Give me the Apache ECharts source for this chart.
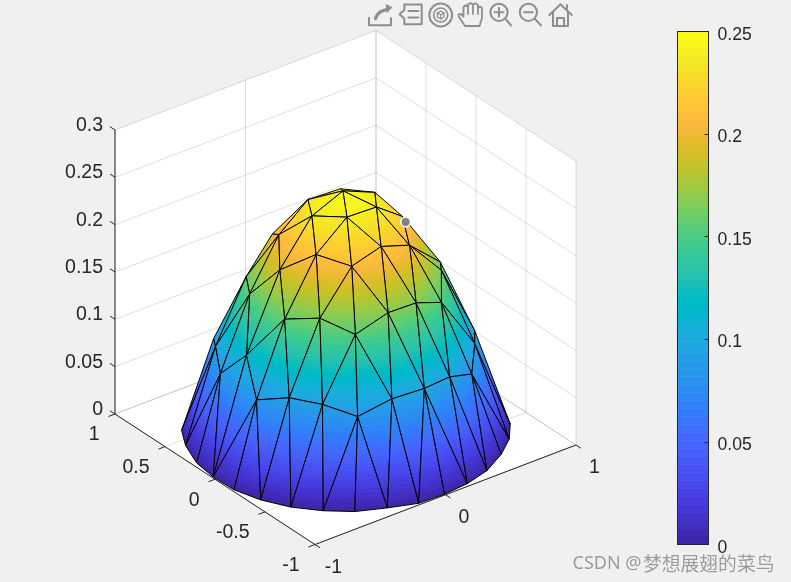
<!DOCTYPE html>
<html><head><meta charset="utf-8"><style>html,body{margin:0;padding:0;background:#f0f0f0}#c{width:791px;height:582px}</style>
<script src="https://cdn.jsdelivr.net/npm/echarts@6/dist/echarts.min.js"></script></head><body><div id="c"></div>
<script>
const vertexIds=['A1','B1','A2','A3','A4','A5','A6','A7','E1','F1','B2','B3','B4','B5','B6','B7','B8','B9','B10','B11','B12','B13','B14','B15','B16','B17','B18','B19','B20','B21','C2','C3','C4','C5','C6','C7','C8','C9','C10','D0','D1','D2','D3','D4','D5','D6','D7','D8','D9','D10','D11','D12','D13','D14','D15','D16'];
const meshX=[.020,.002,.251,-.120,-.302,-.463,.318,.577,-.554,.735,.115,-.235,-.110,-.344,-.001,.223,-.347,-.220,-.482,.487,-.568,.108,.333,-.107,-.585,-.464,-.329,-.735,.595,-.667,-.780,-.800,-.704,-.585,-.435,-.222,.005,.221,.440,-.806,-.906,-.975,-.998,-.986,-.932,-.839,-.710,-.563,-.385,-.193,-.007,.181,.373,.563,.721,.837];
const meshY=[.076,.029,.033,.220,.338,.389,-.155,-.196,.596,-.331,-.160,.029,-.158,.217,-.358,-.349,-.159,-.349,.028,-.323,.217,-.565,-.525,-.566,-.155,-.349,-.528,.031,-.517,.430,.233,-.155,-.356,-.534,-.689,-.754,-.782,-.755,-.689,.587,.417,.216,.020,-.172,-.368,-.549,-.704,-.828,-.922,-.984,-1.000,-.982,-.928,-.823,-.696,-.555];
const meshZ=[.248,.250,.235,.234,.199,.159,.219,.160,.084,.089,.240,.236,.241,.209,.218,.207,.214,.208,.192,.165,.158,.167,.153,.168,.158,.166,.154,.115,.095,.093,.084,.084,.095,.094,.084,.096,.097,.096,.083,.001,.002,.001,.001,0,0,0,0,0,.001,0,.001,.001,.001,.001,0,0];
const triangles=["A3 A1 B1","A1 A2 B1","B1 A2 B2","B1 B2 B4","B1 B3 B4","A3 B1 B3","A3 B3 B5","A3 A4 B5","A4 A5 B5","A5 B5 B12","B5 B10 B12","B3 B5 B10","B3 B8 B10","B3 B4 B8","B4 B8 B9","B4 B9 B6","B2 B4 B6","B2 B6 B7","A2 A6 B2","B2 A6 B7","A6 B7 A7","B7 A7 B11","A7 B11 F1","B11 F1 B20","B11 B20 B14","B14 B7 B11","B13 B7 B14","B13 B6 B7","B15 B6 B13","B15 B9 B6","B18 B9 B15","B17 B9 B18","B17 B8 B9","B16 B8 B17","B10 B8 B16","B10 B16 B19","B10 B12 B19","A5 E1 B21","A5 B21 B12","B12 B21 C2","B12 C2 B19","E1 D0 B21","B21 D0 D1","B21 D1 C2","C2 D1 D2","C2 D2 D3","C2 D3 B19","B19 D3 C3","C3 D3 D4","C3 D4 D5","B19 B16 C3","B16 C3 C4","B16 C4 B17","B17 C4 C5","B17 C5 B18","B18 C5 C6","B18 C6 C7","B18 C7 B15","B15 C7 C8","B15 C8 B13","B13 C8 C9","B13 C9 B14","B14 C9 C10","B14 C10 B20","C3 C4 D5","C4 D5 D6","C4 C5 D6","C5 D6 D7","C5 C6 D7","C6 D7 D8","C6 D8 D9","C6 C7 D9","C7 D9 D10","C7 C8 D10","C8 D10 D11","C8 D11 D12","C8 C9 D12","C9 D12 D13","C9 C10 D13","C10 D13 D14","C10 D14 D15","C10 D15 B20","B20 D15 D16","F1 B20 D16"];
const cursorPoint=[.315,-.195,.216];
const xTicks=[-1,0,1], yTicks=[-1,-.5,0,.5,1], zTicks=[0,.05,.1,.15,.2,.25,.3];
const xTickLabels=['-1','0','1'], yTickLabels=['-1','-0.5','0','0.5','1'], zTickLabels=['0','0.05','0.1','0.15','0.2','0.25','0.3'];
const colorbarMax=.25;
const colorbarTicks=[0,.05,.1,.15,.2,.25], colorbarTickLabels=['0','0.05','0.1','0.15','0.2','0.25'];
const parula=[[.2422,.1504,.6603],[.2504,.165,.7076],[.2578,.1818,.7511],[.2647,.1978,.7952],[.2706,.2147,.8364],[.2751,.2342,.871],[.2783,.2559,.8991],[.2803,.2782,.9221],[.2813,.3006,.9414],[.281,.3228,.9579],[.2795,.3447,.9717],[.276,.3667,.9829],[.2699,.3892,.9906],[.2602,.4123,.9952],[.244,.4358,.9988],[.2206,.4603,.9973],[.1963,.4847,.9892],[.1834,.5074,.9798],[.1786,.5289,.9682],[.1764,.5499,.952],[.1687,.5703,.9359],[.154,.5902,.9218],[.146,.6091,.9079],[.138,.6276,.8973],[.1248,.6459,.8883],[.1113,.6635,.8763],[.0952,.6798,.8598],[.0689,.6948,.8394],[.0297,.7082,.8163],[.0036,.7203,.7917],[.0067,.7312,.766],[.0433,.7411,.7394],[.0964,.75,.712],[.1408,.7584,.6842],[.1717,.767,.6554],[.1938,.7758,.6251],[.2161,.7843,.5923],[.247,.7918,.5567],[.2906,.7973,.5188],[.3406,.8008,.4789],[.3909,.8029,.4354],[.4456,.8024,.3909],[.5044,.7993,.348],[.5616,.7942,.3045],[.6174,.7876,.2612],[.672,.7793,.2227],[.7242,.7698,.191],[.7738,.7598,.1646],[.8203,.7498,.1535],[.8634,.7406,.1596],[.9035,.733,.1774],[.9393,.7288,.21],[.9728,.7298,.2394],[.9956,.7434,.2371],[.997,.7659,.2199],[.9952,.7893,.2028],[.9892,.8136,.1885],[.9786,.8386,.1766],[.9676,.8639,.1643],[.961,.889,.1537],[.9597,.9135,.1423],[.9628,.9373,.1265],[.9691,.9606,.1064],[.9769,.9839,.0805]];

const rgb=c=>`rgb(${c.map(v=>Math.round(v*255)).join(',')})`;
const stops=[];parula.forEach((c,i)=>{const s=rgb(c);stops.push({offset:i/64,color:s},{offset:(i+1)/64,color:s});});
// MATLAB default camera expressed on the page-wide view-plane axes
const cam={o:[345.5,429.5],ex:[130.5,-49.75],ey:[-100,-65.25],ez:-946.7};
const project=(x,y,z)=>[cam.o[0]+cam.ex[0]*x+cam.ey[0]*y, cam.o[1]+cam.ex[1]*x+cam.ey[1]*y+cam.ez*z];
const FONT='"Liberation Sans",Arial,sans-serif', INK='#262626', GRID='rgba(38,38,38,0.15)';
const zMax=zTicks[zTicks.length-1];
const seg=(api,a,b,stroke)=>{const p=api.coord(project(...a)),q=api.coord(project(...b));return {type:'line',shape:{x1:p[0],y1:p[1],x2:q[0],y2:q[1]},style:{stroke,lineWidth:1,fill:null},silent:true};};
const label=(api,p,dx,dy,text,align)=>{const c=api.coord(project(...p));return{type:'text',x:c[0]+dx,y:c[1]+dy,style:{text,fill:INK,font:'19.5px '+FONT,align,verticalAlign:'middle'},silent:true};};

function renderBox(params,api){
  const ch=[];
  const wall=[[-1,1,zMax],[1,1,zMax],[1,-1,zMax],[1,-1,0],[-1,-1,0],[-1,1,0]].map(p=>api.coord(project(...p)));
  ch.push({type:'polygon',shape:{points:wall},style:{fill:'#fff'},silent:true});
  zTicks.forEach(z=>{ch.push(seg(api,[-1,1,z],[1,1,z],GRID),seg(api,[1,1,z],[1,-1,z],GRID));});
  xTicks.forEach(x=>{ch.push(seg(api,[x,1,0],[x,1,zMax],GRID),seg(api,[x,1,0],[x,-1,0],GRID));});
  yTicks.forEach(y=>{ch.push(seg(api,[1,y,0],[1,y,zMax],GRID),seg(api,[-1,y,0],[1,y,0],GRID));});
  ch.push(seg(api,[-1,1,0],[-1,1,zMax],INK),seg(api,[-1,1,0],[-1,-1,0],INK),seg(api,[-1,-1,0],[1,-1,0],INK));
  zTicks.forEach((z,i)=>{ch.push(seg(api,[-1,1,z],[-1,1.05,z],INK),label(api,[-1,1,z],-12,-4.5,zTickLabels[i],'right'));});
  xTicks.forEach((x,i)=>{ch.push(seg(api,[x,-1,0],[x,-1.05,0],INK),label(api,[x,-1,0],18.5,23,xTickLabels[i],'center'));});
  yTicks.forEach((y,i)=>{ch.push(seg(api,[-1,y,0],[-1.05,y,0],INK),label(api,[-1,y,0],-15.5,21,yTickLabels[i],'right'));});
  return {type:'group',children:ch};
}
function renderFacet(params,api){
  const ids=triangles[params.dataIndex].split(' ').map(n=>vertexIds.indexOf(n));
  const pts=ids.map(i=>api.coord(project(meshX[i],meshY[i],meshZ[i])));
  const zs=ids.map(i=>meshZ[i]);
  const [p,q,r]=pts;
  const e1=[q[0]-p[0],q[1]-p[1]],e2=[r[0]-p[0],r[1]-p[1]],d1=zs[1]-zs[0],d2=zs[2]-zs[0];
  const det=e1[0]*e2[1]-e1[1]*e2[0];
  const g=[(d1*e2[1]-d2*e1[1])/det,(e1[0]*d2-e2[0]*d1)/det];
  const gg=g[0]*g[0]+g[1]*g[1];
  let fill;
  if(gg<1e-14){fill=rgb(parula[Math.min(63,Math.floor(zs[0]/colorbarMax*64))]);}
  else{
    const s=-zs[0]/gg,t=(colorbarMax-zs[0])/gg;
    fill=new echarts.graphic.LinearGradient(p[0]+g[0]*s,p[1]+g[1]*s,p[0]+g[0]*t,p[1]+g[1]*t,stops,true);
  }
  return {type:'polygon',shape:{points:pts},style:{fill,stroke:'#000',lineWidth:1,lineJoin:'round'}};
}
function renderCursor(params,api){
  const c=api.coord(project(...cursorPoint));
  return {type:'circle',shape:{cx:c[0]-.5,cy:c[1],r:4.8},style:{fill:'#808080',stroke:'#f2f2f2',lineWidth:1.7}};
}
function renderBand(params,api){
  const i=params.dataIndex;
  const a=api.coord([0,i/64*colorbarMax]),b=api.coord([1,(i+1)/64*colorbarMax]);
  return {type:'rect',shape:{x:a[0],y:b[1],width:b[0]-a[0],height:a[1]-b[1]+.5},style:{fill:rgb(parula[i])}};
}
function renderColorbarLabel(params,api){
  const i=params.dataIndex,c=api.coord([1,colorbarTicks[i]]);
  return {type:'text',x:c[0]+9,y:c[1]+3.2,style:{text:colorbarTickLabels[i],fill:INK,font:'17.6px '+FONT,align:'left',verticalAlign:'middle'},silent:true};
}
const IC='#8e8e8e';
const pl=(points,w=2)=>({type:'polyline',silent:true,z:20,shape:{points},style:{stroke:IC,lineWidth:w,fill:null,lineJoin:'round',lineCap:'round'}});
const pg=(points,fill,w=2)=>({type:'polygon',silent:true,z:20,shape:{points},style:{stroke:fill?null:IC,lineWidth:w,fill:fill||null,lineJoin:'round'}});
const ring=(cx,cy,r,w=2)=>({type:'circle',silent:true,z:20,shape:{cx,cy,r},style:{stroke:IC,lineWidth:w,fill:null}});
const graphics=[
 pl([[369,18],[369,25.3],[391,25.3],[391,18]]),
 pl([[375.5,18.5],[377.5,14.5],[381,11.5],[387,9.2]],3.2),
 pg([[385.7,4],[392.5,7.2],[386.7,13.3]],IC),
 pg([[399.5,14.3],[404.3,10],[404.3,4.5],[421.7,4.5],[421.7,24.3],[404.3,24.3],[404.3,18.5]]),
 pl([[408.5,11],[418.5,11]]),pl([[408.5,17.5],[418.5,17.5]]),
 ring(440.7,15,11.4),ring(440.7,15,7,1.6),
 pg([[440.7,11],[444,13],[444,17],[440.7,19],[437.4,17],[437.4,13]],null,1.2),
 pl([[437.4,13],[440.7,15],[444,13]],1.1),pl([[440.7,15],[440.7,19]],1.1),
 pl([[465,26],[459,17],[458.5,14.5],[461,14],[463.5,16.5],[463.5,7],[465.7,5.2],[468,7],[468,14],[468,4.5],[470.5,3],[473,4.5],[473,14],[473,4.5],[475.5,3.2],[478,5],[478,14],[478,8],[480,6.5],[482,8],[482,18],[479.5,26],[465,26]],1.8),
 ring(499,12.3,8.6),pl([[505.3,18.6],[511,25.5]]),pl([[499,8],[499,16.6]]),pl([[494.7,12.3],[503.3,12.3]]),
 ring(528.4,12.3,8.6),pl([[534.7,18.6],[541,25.5]]),pl([[524,12.3],[532.8,12.3]]),
 pl([[549.3,15],[560.5,4.2],[571.7,15]]),pl([[553,12.5],[553,26],[568,26],[568,12.5]]),pl([[557,26],[557,18],[564,18],[564,26]]),pl([[567,5],[567,8.5]]),
 {type:'text',silent:true,z:20,x:572.5,y:564,style:{text:'CSDN @',fill:'#9a9a9a',font:'18px "Noto Sans","Noto Sans CJK SC",sans-serif',verticalAlign:'middle',textShadowColor:'#ffffff',textShadowBlur:1}},
 {type:'text',silent:true,z:20,x:643,y:564,style:{text:'梦想展翅的菜鸟',fill:'#9a9a9a',font:'18.8px "Noto Sans CJK SC",sans-serif',verticalAlign:'middle',textShadowColor:'#ffffff',textShadowBlur:1}}
];
const off={show:false};
const chart=echarts.init(document.getElementById('c'),null,{renderer:'canvas'});
chart.setOption({
 animation:false,backgroundColor:'#f0f0f0',tooltip:{show:false},
 grid:[{left:0,top:0,width:791,height:582},{left:677.5,top:31.5,width:31,height:513}],
 xAxis:[
  {type:'value',gridIndex:0,min:0,max:791,...off},
  {type:'value',gridIndex:1,min:0,max:1,position:'bottom',z:5,splitLine:off,axisTick:off,axisLabel:off,axisLine:{show:true,onZero:false,lineStyle:{color:INK,width:1}}},
  {type:'value',gridIndex:1,min:0,max:1,position:'top',z:5,splitLine:off,axisTick:off,axisLabel:off,axisLine:{show:true,onZero:false,lineStyle:{color:INK,width:1}}}
 ],
 yAxis:[
  {type:'value',gridIndex:0,min:0,max:582,inverse:true,...off},
  {type:'value',gridIndex:1,min:0,max:colorbarMax,interval:.05,position:'right',z:5,splitLine:off,
   axisLine:{show:true,onZero:false,lineStyle:{color:INK,width:1}},
   axisTick:{show:true,inside:true,length:4,lineStyle:{color:INK,width:1}},
   axisLabel:off},
  {type:'value',gridIndex:1,min:0,max:colorbarMax,position:'left',z:5,splitLine:off,axisTick:off,axisLabel:off,axisLine:{show:true,onZero:false,lineStyle:{color:INK,width:1}}}
 ],
 series:[
  {type:'custom',name:'box',xAxisIndex:0,yAxisIndex:0,z:1,clip:false,silent:true,data:[[0,0]],renderItem:renderBox},
  {type:'custom',name:'surface',xAxisIndex:0,yAxisIndex:0,z:2,clip:false,silent:true,data:triangles.map((t,i)=>[i,0]),renderItem:renderFacet},
  {type:'custom',name:'cursor',xAxisIndex:0,yAxisIndex:0,z:3,clip:false,silent:true,data:[[0,0]],renderItem:renderCursor},
  {type:'custom',name:'colorbar',xAxisIndex:1,yAxisIndex:1,z:2,silent:true,data:parula.map((c,i)=>[0,i]),renderItem:renderBand},
  {type:'custom',name:'colorbarLabels',xAxisIndex:1,yAxisIndex:1,z:6,clip:false,silent:true,data:colorbarTicks.map(v=>[1,v]),renderItem:renderColorbarLabel}
 ],
 graphic:graphics
});
</script></body></html>
